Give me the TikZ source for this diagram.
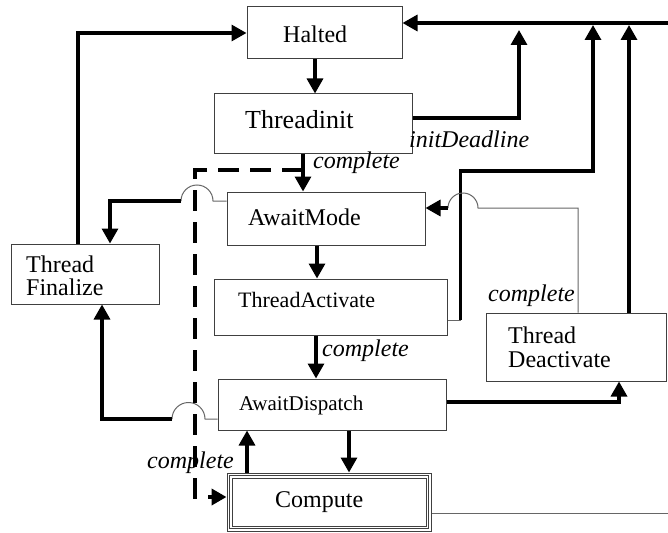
\documentclass[tikz,border=0pt]{standalone}
\usepackage{fontspec}
\setmainfont{Liberation Serif}
\usetikzlibrary{arrows.meta,calc}

\begin{document}
\begin{tikzpicture}[x=1pt,y=-1pt,
  box/.style={draw=black!75, line width=1pt, rectangle, inner sep=0pt},
  txt/.style={inner sep=0pt, anchor=base west, font=\fontsize{24pt}{23pt}\selectfont},
  lbl/.style={inner sep=0pt, anchor=base west, font=\fontsize{24pt}{23pt}\selectfont\itshape},
  conn/.style={line width=3.3pt, -{Triangle[width=16pt,length=15pt]}},
  thinline/.style={draw=black!60, line width=1pt},
  dashline/.style={line width=4.8pt, dash pattern=on 21pt off 11pt}]

\fill[white] (0,0) rectangle (668,532);
\useasboundingbox (0,0) rectangle (668,532);

% states
\node[box, minimum width=155pt, minimum height=52pt] (halted)  at (324.5,33)  {};
\node[box, minimum width=198pt, minimum height=59pt] (tinit)   at (313,123.5) {};
\node[box, minimum width=198pt, minimum height=53pt] (amode)   at (326,218.5) {};
\node[box, minimum width=233pt, minimum height=56pt] (tact)    at (330.5,307) {};
\node[box, minimum width=148pt, minimum height=60pt] (tfin)    at (85,274)    {};
\node[box, minimum width=180pt, minimum height=68pt] (tdeact)  at (576,347)   {};
\node[box, minimum width=228pt, minimum height=51pt] (adisp)   at (332,404.5) {};
\node[box, minimum width=204pt, minimum height=58pt] (compute) at (329,502)   {};
% triple frame of the compute state
\draw[black!75, line width=0.9pt] ([shift={(2.75pt,-2.75pt)}]compute.north west) rectangle ([shift={(-2.75pt,2.75pt)}]compute.south east);
\draw[black!75, line width=0.9pt] ([shift={(5.5pt,-5.5pt)}]compute.north west) rectangle ([shift={(-5.5pt,5.5pt)}]compute.south east);

% state names
\node[txt] (haltedT) at (283,43) {Halted};
\node[txt, font=\fontsize{26pt}{26pt}\selectfont] (tinitT) at (245,128) {Threadinit};
\node[txt] (amodeT) at (248,225) {AwaitMode};
\node[txt, font=\fontsize{22pt}{22pt}\selectfont] (tactT) at (238,307) {ThreadActivate};
\node[txt] (tfinT1) at (26,272) {Thread};
\node[txt] (tfinT2) at (26,295) {Finalize};
\node[txt] (tdeT1) at (508,343) {Thread};
\node[txt] (tdeT2) at (508,367) {Deactivate};
\node[txt, font=\fontsize{21pt}{21pt}\selectfont] (adispT) at (239,410) {AwaitDispatch};
\node[txt] (computeT) at (275,507) {Compute};

% free ends and bend points
\coordinate (busR)   at (668,23);
\coordinate (dlTop)  at (519,30);
\coordinate (actMid) at (593,171);
\coordinate (actTop) at (593,25);
\coordinate (deTop)  at (629,25);
\coordinate (dashStart) at (303,170);
\coordinate (dashBend)  at (195,170);
\coordinate (hopA) at (478,208);
\coordinate (hopB) at (448,208);
\coordinate (hopC) at (213,201);
\coordinate (hopD) at (181,201);
\coordinate (hopE) at (205,419);
\coordinate (hopF) at (172,419);
\coordinate (outR) at (668,513);

% bus into Halted
\draw[conn] (busR) -- (busR -| halted.east);
% ThreadFinalize -> Halted
\draw[conn] ([xshift=-7pt]tfin.north) |- (halted.west);
% Halted -> Threadinit
\draw[conn] ([xshift=-9.5pt]halted.south) -- ([xshift=-9.5pt]halted.south |- tinit.north);
% Threadinit deadline
\draw[conn] ([yshift=5.5pt]tinit.east) -| (dlTop);
% Threadinit -> AwaitMode
\draw[conn] ([xshift=-10pt]tinit.south) -- ([xshift=-10pt]tinit.south |- amode.north);
% AwaitMode -> ThreadActivate
\draw[conn] ([xshift=-9pt]amode.south) -- ([xshift=-9pt]amode.south |- tact.north);
% ThreadActivate -> AwaitDispatch
\draw[conn] ([xshift=-14.5pt]tact.south) -- ([xshift=-14.5pt]tact.south |- adisp.north);
% ThreadActivate -> bus
\draw[thinline] ([yshift=-13pt]tact.east) -- ([yshift=-13pt,xshift=13pt]tact.east) coordinate (actCorner);
\draw[conn] (actCorner) |- (actMid) -- (actTop);
% ThreadDeactivate -> bus
\draw[conn] ([xshift=53pt]tdeact.north) -- (deTop);
% ThreadDeactivate -> AwaitMode
\draw[thinline] ([xshift=2pt]tdeact.north) |- (hopA) arc[start angle=0, end angle=180, radius=15pt];
\draw[conn] (hopB) -- (hopB -| amode.east);
% AwaitMode -> ThreadFinalize
\draw[thinline] (amode.west |- hopC) -- (hopC) arc[start angle=0, end angle=180, radius=16pt];
\draw[conn] (hopD) -| ([xshift=25pt]tfin.north);
% AwaitDispatch -> ThreadFinalize
\draw[thinline] (adisp.west |- hopE) -- (hopE) arc[start angle=0, end angle=180, radius=16.5pt];
\draw[conn] (hopF) -| ([xshift=17pt]tfin.south);
% AwaitDispatch -> ThreadDeactivate
\draw[conn] ([yshift=2.5pt]adisp.east) -| ([xshift=43pt]tdeact.south);
% AwaitDispatch -> Compute
\draw[conn] ([xshift=17pt]adisp.south) -- ([xshift=17pt]adisp.south |- compute.north);
% Compute -> AwaitDispatch
\draw[conn] ([xshift=-82pt]compute.north) -- ([xshift=-82pt]compute.north |- adisp.south);
% Compute exit
\draw[thinline] ([yshift=-11pt]compute.east) -- (outR);
% dashed branch into Compute
\draw[dashline, -{Triangle[width=16pt,length=15pt]}] (dashStart) -- (dashBend) |- ([yshift=5pt]compute.west);

% transition labels
\node[lbl] (lInit) at (409,147) {initDeadline};
\node[lbl] (lc1) at (313,168) {complete};
\node[lbl] (lc2) at (488,301) {complete};
\node[lbl] (lc3) at (322,356) {complete};
\node[lbl] (lc4) at (147,468) {complete};
\end{tikzpicture}
\end{document}
